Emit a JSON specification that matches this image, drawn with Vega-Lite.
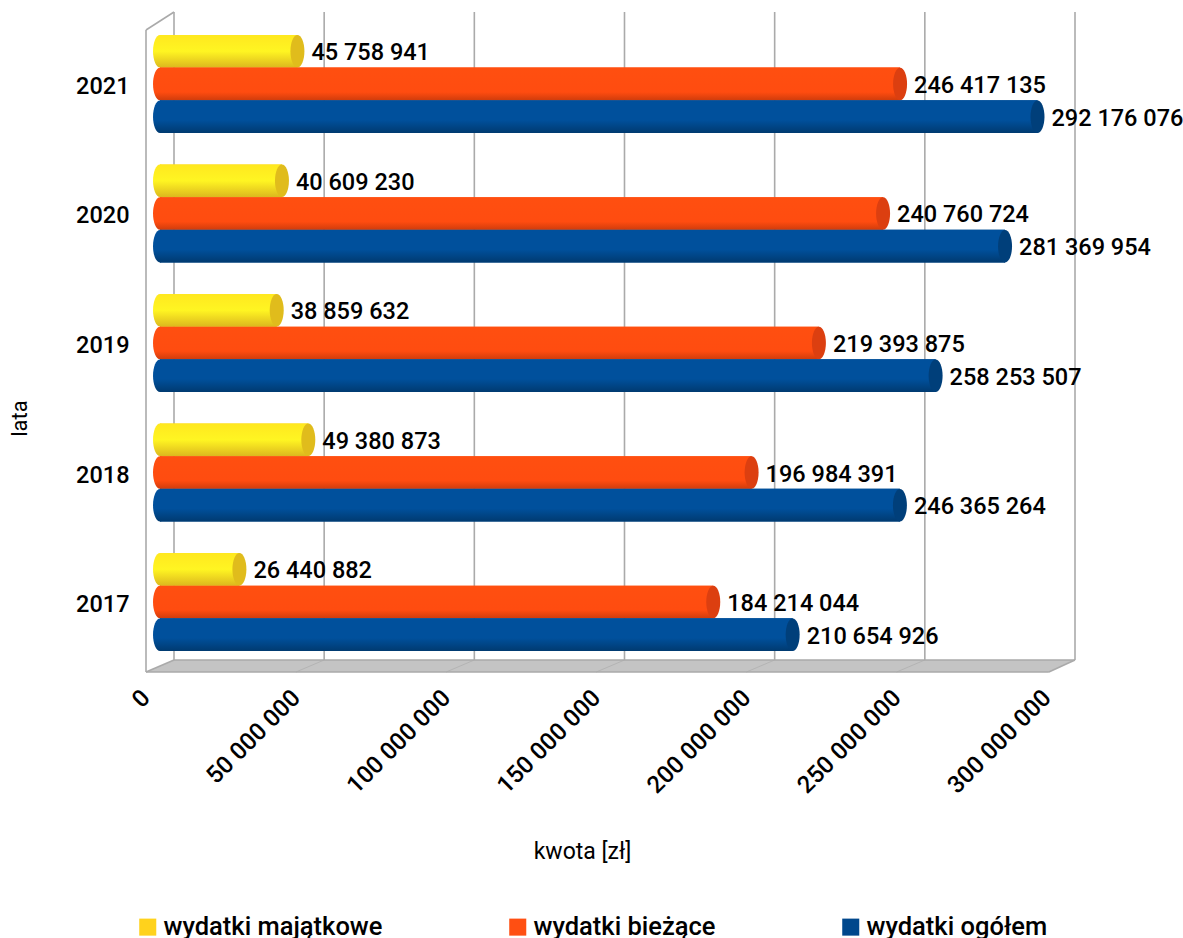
{"$schema":"https://vega.github.io/schema/vega-lite/v6.json","autosize":{"type":"none"},"padding":{"left":146,"top":12,"right":108,"bottom":266},"width":929,"height":660,"background":"white",
"config":{"locale":{"number":{"decimal":",","thousands":" ","grouping":[3],"currency":["","zł"]}},"font":"Roboto","view":{"stroke":null}},
"datasets":{
"wydatki":[
{"rok":"2021","seria":"wydatki majątkowe","kwota":45758941},{"rok":"2021","seria":"wydatki bieżące","kwota":246417135},{"rok":"2021","seria":"wydatki ogółem","kwota":292176076},
{"rok":"2020","seria":"wydatki majątkowe","kwota":40609230},{"rok":"2020","seria":"wydatki bieżące","kwota":240760724},{"rok":"2020","seria":"wydatki ogółem","kwota":281369954},
{"rok":"2019","seria":"wydatki majątkowe","kwota":38859632},{"rok":"2019","seria":"wydatki bieżące","kwota":219393875},{"rok":"2019","seria":"wydatki ogółem","kwota":258253507},
{"rok":"2018","seria":"wydatki majątkowe","kwota":49380873},{"rok":"2018","seria":"wydatki bieżące","kwota":196984391},{"rok":"2018","seria":"wydatki ogółem","kwota":246365264},
{"rok":"2017","seria":"wydatki majątkowe","kwota":26440882},{"rok":"2017","seria":"wydatki bieżące","kwota":184214044},{"rok":"2017","seria":"wydatki ogółem","kwota":210654926}],
"siatka":[{"a":0,"b":0,"h1":12,"h2":660},{"a":50000000,"b":50000000,"h1":12,"h2":660},{"a":100000000,"b":100000000,"h1":12,"h2":660},{"a":150000000,"b":150000000,"h1":12,"h2":660},{"a":200000000,"b":200000000,"h1":12,"h2":660},{"a":250000000,"b":250000000,"h1":12,"h2":660},{"a":300000000,"b":300000000,"h1":12,"h2":660},
{"a":-9323000,"b":-9323000,"h1":0,"h2":642},{"a":-9323000,"b":0,"h1":642,"h2":660},{"a":-9323000,"b":291300000,"h1":0,"h2":0},{"a":0,"b":300000000,"h1":12,"h2":12},{"a":291300000,"b":300000000,"h1":0,"h2":12},{"a":-9323000,"b":0,"h1":0,"h2":12}],
"przekatne":[{"a":40600000,"b":50000000,"h1":0,"h2":12},{"a":90600000,"b":100000000,"h1":0,"h2":12},{"a":140600000,"b":150000000,"h1":0,"h2":12},{"a":190600000,"b":200000000,"h1":0,"h2":12},{"a":240600000,"b":250000000,"h1":0,"h2":12}],
"podloga":[{"h":0,"a":-9323000,"b":291300000},{"h":12,"a":0,"b":300000000}],
"oś":[{"kwota":0}]},
"layer":[
{"data":{"name":"podloga"},"mark":{"type":"area","orient":"horizontal","color":"#c4c4c4"},"encoding":{"y":{"field":"h","type":"quantitative","scale":{"domain":[0,660],"nice":false},"axis":null},"x":{"field":"a","type":"quantitative","scale":{"domain":[-9323000,300000000],"nice":false,"zero":false},"axis":null},"x2":{"field":"b"}}},
{"data":{"name":"przekatne"},"mark":{"type":"rule","color":"#b4b4b4","strokeWidth":1},"encoding":{"y":{"field":"h1","type":"quantitative","scale":{"domain":[0,660],"nice":false},"axis":null},"y2":{"field":"h2"},"x":{"field":"a","type":"quantitative","scale":{"domain":[-9323000,300000000],"nice":false,"zero":false},"axis":null},"x2":{"field":"b"}}},
{"data":{"name":"siatka"},"mark":{"type":"rule","color":"#aaaaaa","strokeWidth":1.6},"encoding":{"y":{"field":"h1","type":"quantitative","scale":{"domain":[0,660],"nice":false},"axis":null},"y2":{"field":"h2"},"x":{"field":"a","type":"quantitative","scale":{"domain":[-9323000,300000000],"nice":false,"zero":false},"axis":null},"x2":{"field":"b"}}},
{"data":{"name":"oś"},"mark":{"type":"point","opacity":0},"encoding":{"x":{"field":"kwota","type":"quantitative","scale":{"domain":[0,309323000],"nice":false,"zero":false},"axis":{"values":[0,50000000,100000000,150000000,200000000,250000000,300000000],"format":",d","labelAngle":-45,"labelAlign":"right","labelBaseline":"middle","labelFontSize":24,"labelFontWeight":500,"labelColor":"#000","labelPadding":22,"labelOverlap":false,"labelBound":false,"labelFlush":false,"domain":false,"ticks":false,"grid":false,"title":"kwota [zł]","titleFontSize":23,"titleFontWeight":400,"titleColor":"#000","titleX":436,"titleY":179,"titleAlign":"center","titleBaseline":"middle"}}}},
{"data":{"name":"wydatki"},
"encoding":{
"y":{"field":"rok","type":"ordinal","scale":{"domain":["2021","2020","2019","2018","2017"],"paddingInner":0,"paddingOuter":0.048,"align":0.58},"axis":{"labelFontSize":23.5,"labelFontWeight":500,"labelColor":"#000","labelPadding":17,"labelAngle":0,"labelOffset":3,"domain":false,"ticks":false,"grid":false,"title":"lata","titleFontSize":22,"titleFontWeight":400,"titleColor":"#000","titleAngle":-90,"titleX":-127,"titleY":406,"titleAlign":"center","titleBaseline":"middle"}},
"yOffset":{"field":"seria","type":"nominal","sort":["wydatki majątkowe","wydatki bieżące","wydatki ogółem"],"scale":{"domain":["wydatki majątkowe","wydatki bieżące","wydatki ogółem"],"paddingInner":0,"paddingOuter":0.48}},
"x":{"field":"kwota","type":"quantitative","scale":{"domain":[-4662000,304662000],"nice":false,"zero":false},"axis":null}},
"layer":[
{"mark":{"type":"bar"},"encoding":{"color":{"field":"seria","type":"nominal","scale":{"domain":["wydatki majątkowe","wydatki bieżące","wydatki ogółem"],"range":["#ffd21c","#ff4f12","#00478c"]},"legend":{"orient":"none","legendX":-11,"legendY":902,"direction":"horizontal","columns":3,"gridAlign":"each","columnPadding":122,"title":null,"symbolType":"square","symbolSize":290,"symbolStrokeWidth":0,"labelFontSize":25.5,"labelFontWeight":500,"labelColor":"#000","labelLimit":400,"labelOffset":3}}}},
{"transform":[{"filter":"datum.seria==='wydatki majątkowe'"}],"layer":[
{"mark":{"type":"point","filled":true,"opacity":1,"size":1056,"shape":"M0,-1A0.43,1 0 1,1 0,1A0.43,1 0 1,1 0,-1Z","color":{"gradient":"linear","x1":0,"y1":0,"x2":0,"y2":1,"stops":[{"offset":0,"color":"#ffe81f"},{"offset":0.5,"color":"#fff522"},{"offset":1,"color":"#dcb81e"}]}},"encoding":{"x":{"datum":0,"type":"quantitative","axis":null}}},
{"mark":{"type":"bar","color":{"gradient":"linear","x1":0,"y1":0,"x2":0,"y2":1,"stops":[{"offset":0,"color":"#ffe81f"},{"offset":0.5,"color":"#fff522"},{"offset":1,"color":"#dcb81e"}]}}},
{"mark":{"type":"point","filled":true,"opacity":1,"size":1056,"shape":"M0,-1A0.43,1 0 1,1 0,1A0.43,1 0 1,1 0,-1Z","color":"#e0bc1c"}}]},
{"transform":[{"filter":"datum.seria==='wydatki bieżące'"}],"layer":[
{"mark":{"type":"point","filled":true,"opacity":1,"size":1056,"shape":"M0,-1A0.43,1 0 1,1 0,1A0.43,1 0 1,1 0,-1Z","color":{"gradient":"linear","x1":0,"y1":0,"x2":0,"y2":1,"stops":[{"offset":0,"color":"#ff4f10"},{"offset":0.75,"color":"#ff4c10"},{"offset":1,"color":"#d03c0c"}]}},"encoding":{"x":{"datum":0,"type":"quantitative","axis":null}}},
{"mark":{"type":"bar","color":{"gradient":"linear","x1":0,"y1":0,"x2":0,"y2":1,"stops":[{"offset":0,"color":"#ff4f10"},{"offset":0.75,"color":"#ff4c10"},{"offset":1,"color":"#d03c0c"}]}}},
{"mark":{"type":"point","filled":true,"opacity":1,"size":1056,"shape":"M0,-1A0.43,1 0 1,1 0,1A0.43,1 0 1,1 0,-1Z","color":"#dc3f10"}}]},
{"transform":[{"filter":"datum.seria==='wydatki ogółem'"}],"layer":[
{"mark":{"type":"point","filled":true,"opacity":1,"size":1056,"shape":"M0,-1A0.43,1 0 1,1 0,1A0.43,1 0 1,1 0,-1Z","color":{"gradient":"linear","x1":0,"y1":0,"x2":0,"y2":1,"stops":[{"offset":0,"color":"#00509c"},{"offset":0.6,"color":"#00509c"},{"offset":1,"color":"#003a70"}]}},"encoding":{"x":{"datum":0,"type":"quantitative","axis":null}}},
{"mark":{"type":"bar","color":{"gradient":"linear","x1":0,"y1":0,"x2":0,"y2":1,"stops":[{"offset":0,"color":"#00509c"},{"offset":0.6,"color":"#00509c"},{"offset":1,"color":"#003a70"}]}}},
{"mark":{"type":"point","filled":true,"opacity":1,"size":1056,"shape":"M0,-1A0.43,1 0 1,1 0,1A0.43,1 0 1,1 0,-1Z","color":"#003f7a"}}]},
{"mark":{"type":"text","align":"left","baseline":"middle","dx":14,"dy":2,"fontSize":23.5,"fontWeight":500,"color":"#000"},"encoding":{"text":{"field":"kwota","type":"quantitative","format":",d"}}}
]}
],
"resolve":{"scale":{"x":"independent","y":"independent"},"axis":{"x":"independent","y":"independent"}}}
